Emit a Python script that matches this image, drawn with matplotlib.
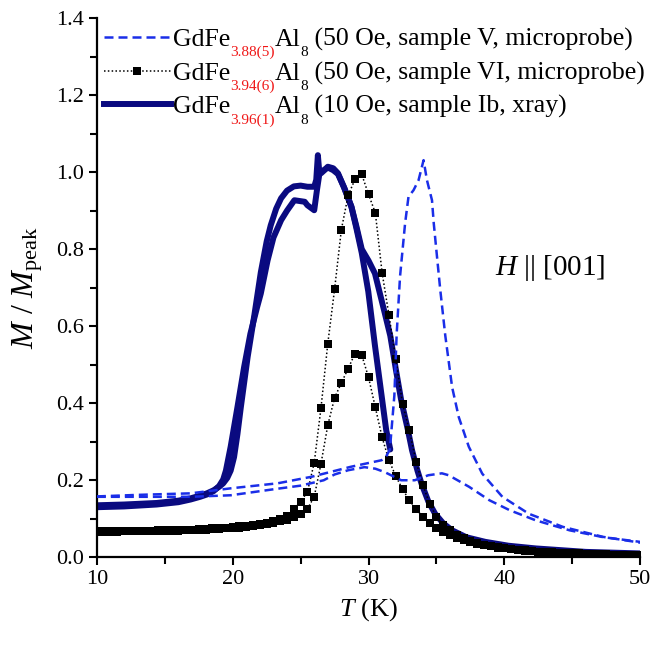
import matplotlib
matplotlib.use('Agg')
from matplotlib import pyplot as plt
from matplotlib.lines import Line2D
from matplotlib.ticker import MultipleLocator

plt.rcParams['font.family'] = ['Liberation Serif', 'DejaVu Serif']
plt.rcParams['mathtext.fontset'] = 'custom'
plt.rcParams['mathtext.rm'] = 'Liberation Serif'
plt.rcParams['mathtext.it'] = 'Liberation Serif:italic'

# --- sample V (dashed), two branches ---
t_v_peak = [10, 13, 16.9, 19.85, 23.3, 25.8, 28.7, 30.96, 31.3, 31.57, 31.9, 32.07,
            32.32, 32.69, 32.94, 33.31, 33.68, 34.05, 34.3, 34.67, 34.8, 35.04, 35.28,
            35.65, 36.15, 36.64, 37.38, 38.37, 39.85, 41.8, 44.3, 47.26, 50]
m_v_peak = [0.158, 0.162, 0.166, 0.179, 0.192, 0.209, 0.235, 0.252, 0.262, 0.28, 0.42, 0.58,
            0.73, 0.867, 0.936, 0.953, 0.979, 1.031, 0.979, 0.927, 0.867, 0.78, 0.694,
            0.575, 0.442, 0.364, 0.287, 0.217, 0.157, 0.113, 0.079, 0.053, 0.038]
t_v_bump = [10, 13, 16.9, 19.85, 23.3, 25.0, 26.7, 27.5, 28.5, 29.7, 30.5, 31.2, 32.4,
            33.4, 34.4, 35.4, 35.9, 37.4, 38.9, 40.4, 42.3, 44.8, 47.3, 50]
m_v_bump = [0.157, 0.157, 0.157, 0.161, 0.178, 0.186, 0.2, 0.215, 0.226, 0.234, 0.23, 0.221, 0.2,
            0.2, 0.213, 0.218, 0.213, 0.183, 0.148, 0.122, 0.096, 0.07, 0.052, 0.04]

# --- sample VI (squares, 0.5 K steps from 10 to 50 K) ---
t_vi = [10 + 0.5 * i for i in range(81)]
m_vi_big = [0.068, 0.068, 0.068, 0.068, 0.068, 0.069, 0.069, 0.069, 0.069, 0.070, 0.070,
            0.070, 0.071, 0.071, 0.072, 0.073, 0.074, 0.075, 0.076, 0.077, 0.079,
            0.080, 0.082, 0.084, 0.087, 0.090, 0.094, 0.099, 0.106,
            0.125, 0.144, 0.17, 0.245, 0.388, 0.555, 0.696, 0.851, 0.94, 0.981, 0.994,
            0.942, 0.894, 0.738, 0.629, 0.516, 0.399, 0.33, 0.248, 0.187, 0.139, 0.105,
            0.085, 0.07, 0.058, 0.05, 0.043, 0.038, 0.033, 0.03, 0.027, 0.024,
            0.022, 0.02, 0.018, 0.017, 0.015, 0.014, 0.013, 0.012, 0.011, 0.01,
            0.01, 0.009, 0.009, 0.008, 0.008, 0.007, 0.007, 0.006, 0.006, 0.006]
m_vi_small = [0.066, 0.066, 0.066, 0.066, 0.067, 0.067, 0.067, 0.067, 0.068, 0.068, 0.068,
              0.069, 0.069, 0.070, 0.070, 0.071, 0.072, 0.073, 0.074, 0.075, 0.076,
              0.077, 0.079, 0.081, 0.083, 0.086, 0.089, 0.093, 0.098,
              0.104, 0.113, 0.126, 0.157, 0.243, 0.343, 0.414, 0.453, 0.49, 0.529, 0.525,
              0.467, 0.389, 0.311, 0.252, 0.211, 0.177, 0.148, 0.125, 0.105, 0.088, 0.075,
              0.065, 0.057, 0.05, 0.044, 0.039, 0.035, 0.031, 0.028, 0.025, 0.023,
              0.021, 0.019, 0.017, 0.016, 0.015, 0.014, 0.013, 0.012, 0.011, 0.01,
              0.01, 0.009, 0.009, 0.008, 0.008, 0.007, 0.007, 0.006, 0.006, 0.006]

# --- sample Ib (thick navy), two branches ---
t_ib_a = [10, 12, 14.4, 16.0, 16.9, 17.6, 18.1, 18.6, 19.0, 19.3, 19.6, 19.85, 20.1, 20.35,
          20.6, 21.1, 21.6, 22.07, 22.5, 22.8, 23.2, 23.56, 24.0, 24.5, 25.0, 25.5, 26.0,
          26.15, 26.27, 26.35, 26.5, 26.75, 27.0, 27.4, 27.75, 28.2, 28.74, 29.1, 29.5, 30.0,
          30.47, 31.2, 31.6, 32.0, 32.4, 32.9, 33.2, 33.6, 33.9, 34.4, 34.9, 35.5, 36.15,
          37.2, 38.6, 40.3, 42.3, 46.0, 50]
m_ib_a = [0.135, 0.137, 0.141, 0.147, 0.153, 0.160, 0.166, 0.174, 0.183, 0.192, 0.206, 0.225,
          0.26, 0.32, 0.39, 0.52, 0.63, 0.74, 0.82, 0.862, 0.905, 0.932, 0.952, 0.963,
          0.965, 0.962, 0.962, 0.98, 1.044, 1.01, 0.997, 1.005, 1.014, 1.01, 0.997, 0.96,
          0.91, 0.86, 0.80, 0.77, 0.737, 0.633, 0.575, 0.49, 0.408, 0.33, 0.278, 0.225,
          0.191, 0.145, 0.113, 0.088, 0.07, 0.052, 0.04, 0.03, 0.023, 0.014, 0.01]
t_ib_b = [10, 12, 14.4, 16.0, 16.9, 17.6, 18.1, 18.6, 19.0, 19.3, 19.5, 19.85, 20.35, 20.84,
          21.3, 21.8, 22.07, 22.57, 23.0, 23.56, 24.0, 24.54, 25.3, 25.5, 26.0, 26.2, 26.4,
          26.7, 27.0, 27.4, 27.75, 28.2, 28.74, 29.1, 29.5, 29.98, 30.47, 30.96, 31.3, 31.6]
m_ib_b = [0.13, 0.132, 0.137, 0.143, 0.15, 0.157, 0.163, 0.172, 0.185, 0.202, 0.225, 0.287,
          0.39, 0.494, 0.58, 0.65, 0.685, 0.771, 0.83, 0.875, 0.90, 0.927, 0.923, 0.914,
          0.901, 0.953, 1.0, 1.005, 1.012, 1.005, 0.995, 0.96, 0.91, 0.855, 0.79, 0.69,
          0.55, 0.42, 0.33, 0.28]

blue = '#1a2ee8'
navy = '#0a0a80'

fig = plt.figure(figsize=(6.5, 6.45), dpi=100)
ax = fig.add_axes([0.149, 0.136, 0.836, 0.836])

ax.plot(t_ib_a, m_ib_a, color=navy, lw=4.3, solid_capstyle='round', solid_joinstyle='round',
        zorder=2)
ax.plot(t_ib_b, m_ib_b, color=navy, lw=4.3, solid_capstyle='round', solid_joinstyle='round',
        zorder=2)
for m in (m_vi_big, m_vi_small):
    ax.plot(t_vi, m, color='black', ls=(0, (1, 1.5)), lw=1.1, marker='s', ms=5.6,
            mew=0, zorder=3)
for t, m in ((t_v_peak, m_v_peak), (t_v_bump, m_v_bump)):
    ax.plot(t, m, color=blue, ls=(0, (3.6, 2)), lw=1.8, zorder=4)

ax.set_xlim(10, 50)
ax.set_ylim(0, 1.4)
ax.xaxis.set_major_locator(MultipleLocator(10))
ax.xaxis.set_minor_locator(MultipleLocator(5))
ax.yaxis.set_major_locator(MultipleLocator(0.2))
ax.yaxis.set_minor_locator(MultipleLocator(0.1))
ax.yaxis.set_major_formatter(lambda v, p: f'{v:.1f}')
for s in ('top', 'right'):
    ax.spines[s].set_visible(False)
for s in ('left', 'bottom'):
    ax.spines[s].set_linewidth(1.6)
ax.tick_params(which='both', direction='out', width=1.5, labelsize=16, pad=3)
ax.tick_params(which='major', length=6)
ax.tick_params(which='minor', length=5)

ax.set_xlabel(r'$T$ (K)', fontsize=19, labelpad=5)
ax.set_ylabel(r'$M$ / $M_{\mathrm{peak}}$', fontsize=23, labelpad=8)
ax.text(39.3, 0.75, r'$H$ || [001]', fontsize=21, va='center', ha='left')

handles = [
    Line2D([], [], color=blue, ls=(0, (3.6, 2)), lw=1.8),
    Line2D([], [], color='black', ls=(0, (1, 1.5)), lw=1.1, marker='s', ms=5.6, mew=0),
    Line2D([], [], color=navy, lw=4.3),
]
leg = ax.legend(handles, ['GdFe'] * 3, loc='upper left', bbox_to_anchor=(0.013, 0.982),
                frameon=False, fontsize=18.5, handlelength=2.6, handletextpad=0.1,
                labelspacing=0.42, borderpad=0, borderaxespad=0, numpoints=1)

rows = [
    ('3.88(5)', ' (50 Oe, sample V, microprobe)'),
    ('3.94(6)', ' (50 Oe, sample VI, microprobe)'),
    ('3.96(1)', ' (10 Oe, sample Ib, xray)'),
]
for txt, (sub, tail) in zip(leg.get_texts(), rows):
    prev = txt
    for piece, color, size, dy in ((sub, '#f01818', 11, -6), ('Al', 'black', 18.5, 6),
                                   ('8', 'black', 11, -6), (tail, 'black', 18.5, 6)):
        prev = ax.annotate(piece, xy=(1, 0), xycoords=prev, xytext=(0, dy),
                           textcoords='offset points', ha='left', va='bottom',
                           color=color, fontsize=size, zorder=6, annotation_clip=False)

fig.savefig('out.png', dpi=100)
